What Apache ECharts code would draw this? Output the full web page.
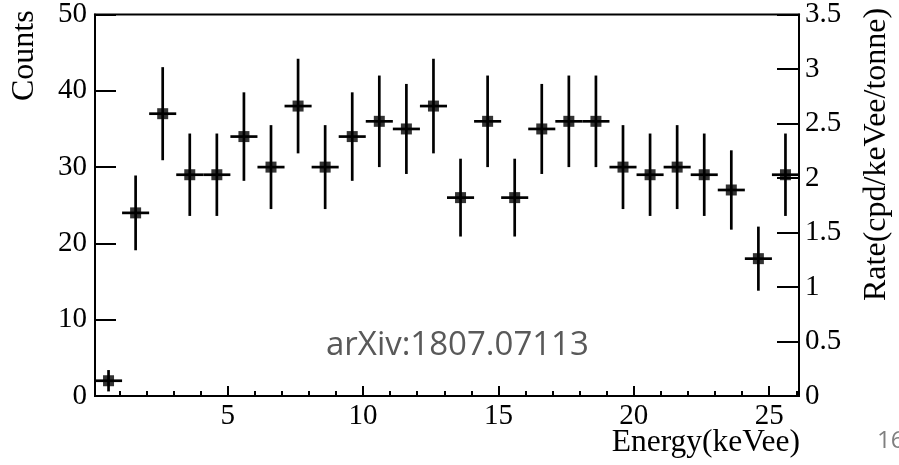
<!DOCTYPE html>
<html>
<head>
<meta charset="utf-8">
<script src="https://cdn.jsdelivr.net/npm/echarts@6/dist/echarts.min.js"></script>
<style>
html,body{margin:0;padding:0;background:#fff;}
#chart{width:899px;height:465px;}
</style>
</head>
<body>
<div id="chart"></div>
<script>
// Bin centres (keVee), counts per bin, error (half-height) and bin half-width
var binCenters = [0.6, 1.6, 2.6, 3.6, 4.6, 5.6, 6.6, 7.6, 8.6, 9.6, 10.6, 11.6, 12.6,
                  13.6, 14.6, 15.6, 16.6, 17.6, 18.6, 19.6, 20.6, 21.6, 22.6, 23.6, 24.6, 25.6];
var counts = [2, 24, 37, 29, 29, 34, 30, 38, 30, 34, 36, 35, 38,
              26, 36, 26, 35, 36, 36, 30, 29, 30, 29, 27, 18, 29];
var errors = [1.4, 4.9, 6.1, 5.4, 5.4, 5.8, 5.5, 6.2, 5.5, 5.8, 6.0, 5.9, 6.2,
              5.1, 6.0, 5.1, 5.9, 6.0, 6.0, 5.5, 5.4, 5.5, 5.4, 5.2, 4.2, 5.4];
var halfWidths = [0.5, 0.5, 0.5, 0.5, 0.5, 0.5, 0.5, 0.5, 0.5, 0.5, 0.5, 0.5, 0.5,
                  0.5, 0.5, 0.5, 0.5, 0.5, 0.5, 0.5, 0.5, 0.5, 0.5, 0.5, 0.5, 0.5];
var xMajorTicks = [5, 10, 15, 20, 25];
var xMinorTicks = [1, 2, 3, 4, 6, 7, 8, 9, 11, 12, 13, 14, 16, 17, 18, 19, 21, 22, 23, 24, 26];

var serif = 'Liberation Serif';
var chart = echarts.init(document.getElementById('chart'));

var errData = counts.map(function (v, i) { return [binCenters[i], v, errors[i], halfWidths[i]]; });
var ptData = counts.map(function (v, i) { return [binCenters[i], v]; });

chart.setOption({
  animation: false,
  backgroundColor: '#fff',
  grid: { left: 95, right: 100, top: 14, bottom: 69, show: true, borderColor: '#000', borderWidth: 2, containLabel: false },
  xAxis: [{
    type: 'value', min: 0.1, max: 26.1, position: 'bottom',
    axisLine: { show: true, onZero: false, lineStyle: { color: '#000', width: 2 } },
    axisTick: { show: true, inside: true, length: 10, customValues: xMajorTicks, lineStyle: { color: '#000', width: 2 } },
    axisLabel: { show: true, customValues: xMajorTicks, margin: 6, color: '#000', fontFamily: serif, fontSize: 29 },
    splitLine: { show: false }
  }, {
    type: 'value', min: 0.1, max: 26.1, position: 'bottom',
    axisLine: { show: false, onZero: false },
    axisTick: { show: true, inside: true, length: 5, customValues: xMinorTicks, lineStyle: { color: '#000', width: 2 } },
    axisLabel: { show: false },
    splitLine: { show: false }
  }],
  yAxis: [{
    type: 'value', min: 0, max: 50, interval: 10, position: 'left',
    axisLine: { show: true, onZero: false, lineStyle: { color: '#000', width: 2 } },
    axisTick: { show: true, inside: true, length: 21, lineStyle: { color: '#000', width: 2 } },
    axisLabel: { margin: 8, color: '#000', fontFamily: serif, fontSize: 29 },
    splitLine: { show: false }
  }, {
    type: 'value', min: 0, max: 3.5, interval: 0.5, position: 'right',
    axisLine: { show: true, onZero: false, lineStyle: { color: '#000', width: 2 } },
    axisTick: { show: true, inside: true, length: 22, lineStyle: { color: '#000', width: 2 } },
    axisLabel: { margin: 6, color: '#000', fontFamily: serif, fontSize: 29 },
    splitLine: { show: false }
  }],
  series: [{
    type: 'custom',
    xAxisIndex: 0, yAxisIndex: 0,
    data: errData,
    renderItem: function (params, api) {
      var x = api.value(0), y = api.value(1), e = api.value(2), w = api.value(3);
      var t = api.coord([x, y + e]);
      var b = api.coord([x, y - e]);
      var l = api.coord([x - w, y]);
      var r = api.coord([x + w, y]);
      return {
        type: 'group',
        children: [
          { type: 'line', shape: { x1: t[0], y1: t[1], x2: b[0], y2: b[1] }, style: { stroke: '#000', lineWidth: 2.7 } },
          { type: 'line', shape: { x1: l[0], y1: l[1], x2: r[0], y2: r[1] }, style: { stroke: '#000', lineWidth: 2.7 } }
        ]
      };
    },
    z: 2
  }, {
    type: 'scatter',
    xAxisIndex: 0, yAxisIndex: 0,
    data: ptData,
    symbol: 'rect',
    symbolSize: 11,
    itemStyle: { color: '#000' },
    z: 3
  }],
  graphic: [
    { type: 'text', x: 25, y: 101, rotation: Math.PI / 2,
      style: { text: 'Counts', x: 0, y: 0, align: 'left', verticalAlign: 'middle', fill: '#000', font: '32px "Liberation Serif"' } },
    { type: 'text', x: 877, y: 301, rotation: Math.PI / 2,
      style: { text: 'Rate(cpd/keVee/tonne)', x: 0, y: 0, align: 'left', verticalAlign: 'middle', fill: '#000', font: '32px "Liberation Serif"' } },
    { type: 'text', x: 800, y: 443,
      style: { text: 'Energy(keVee)', x: 0, y: 0, align: 'right', verticalAlign: 'middle', fill: '#000', font: '31.5px "Liberation Serif"' } },
    { type: 'text', x: 326, y: 346,
      style: { text: 'arXiv:1807.07113', x: 0, y: 0, align: 'left', verticalAlign: 'middle', fill: '#595959', font: '33px "Open Sans"' } },
    { type: 'text', x: 877, y: 441,
      style: { text: '16', x: 0, y: 0, align: 'left', verticalAlign: 'middle', fill: '#7f7f7f', font: '24px "Open Sans"' } }
  ]
});
</script>
</body>
</html>
